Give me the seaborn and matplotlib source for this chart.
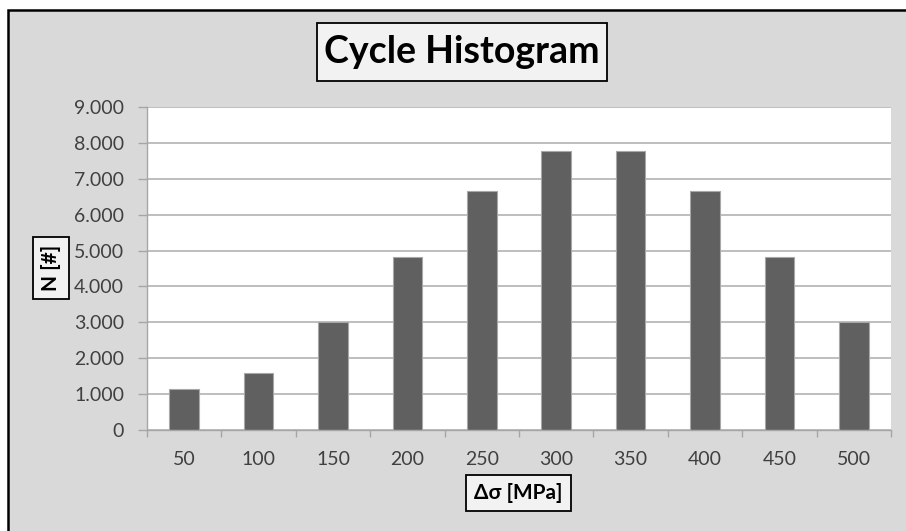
import matplotlib
matplotlib.use('Agg')
import matplotlib.pyplot as plt
import seaborn as sns
import pandas as pd
import numpy as np
from matplotlib.patches import Rectangle
from matplotlib.ticker import FuncFormatter

# ---- data ----
categories = ['50', '100', '150', '200', '250', '300', '350', '400', '450', '500']
counts = [1130, 1600, 3000, 4830, 6650, 7765, 7765, 6650, 4830, 3000]
y_ticks = [0, 1000, 2000, 3000, 4000, 5000, 6000, 7000, 8000, 9000]
title_text = 'Cycle Histogram'
x_label = 'Δσ [MPa]'
y_label = 'N [#]'

sns.set_theme(style='white')
plt.rcParams['font.family'] = ['Lato', 'DejaVu Sans']

W, H = 906, 531
fig = plt.figure(figsize=(W / 100, H / 100), dpi=100, facecolor='white')


def px_rect(x0, y0, x1, y1, **kw):
    """Rectangle given in figure pixel coords (origin top-left)."""
    return Rectangle((x0 / W, 1 - y1 / H), (x1 - x0) / W, (y1 - y0) / H,
                     transform=fig.transFigure, **kw)


# chart area frame (gray with black border, cropped at right/bottom)
fig.patches.append(px_rect(8, 10, 1000, 600, facecolor='#d9d9d9', edgecolor='black',
                           lw=1.8, zorder=-5))

ax = fig.add_axes([147 / W, 101 / H, 744 / W, 323 / H])
ax.set_zorder(1)
df = pd.DataFrame({'range': categories, 'N': counts})
sns.barplot(data=df, x='range', y='N', ax=ax, color='#606060', width=0.4,
            edgecolor='#a8a8a8', linewidth=0.8, saturation=1)

ax.set_facecolor('white')
ax.set_ylim(0, 9000)
ax.set_xlim(-0.5, len(categories) - 0.5)
ax.set_yticks(y_ticks)
ax.yaxis.set_major_formatter(FuncFormatter(lambda v, p: f'{int(v):,}'.replace(',', '.')))
ax.grid(axis='y', color='#b3b3b3', lw=1.2)
ax.grid(axis='x', visible=False)
ax.set_axisbelow(True)
for s in ['top', 'right']:
    ax.spines[s].set_visible(False)
for s in ['left', 'bottom']:
    ax.spines[s].set_color('#a6a6a6')
    ax.spines[s].set_linewidth(1.0)

ax.tick_params(axis='y', left=True, length=6.5, width=1, color='#a6a6a6', pad=10,
               labelsize=14, labelcolor='#404040')
ax.set_xticks(np.arange(-0.5, len(categories), 1), minor=True)
ax.tick_params(axis='x', which='major', bottom=True, length=0, pad=15,
               labelsize=14, labelcolor='#404040')
ax.tick_params(axis='x', which='minor', bottom=True, length=5, width=1, color='#a6a6a6')
ax.set_xlabel('')
ax.set_ylabel('')

# boxed title / axis labels
box_kw = dict(facecolor='#f2f2f2', edgecolor='black', lw=1.3, zorder=2)
fig.patches.append(px_rect(317, 23, 607, 81, **box_kw))
fig.patches.append(px_rect(33, 237, 69, 299, **box_kw))
fig.patches.append(px_rect(466, 475, 571, 511, **box_kw))

fig.text(462 / W, 1 - 52 / H, title_text, ha='center', va='center', fontsize=27,
         fontweight='bold', color='black', zorder=3)
fig.text(51 / W, 1 - 268 / H, y_label, rotation=90, ha='center', va='center', fontsize=15,
         fontweight='bold', color='black', zorder=3)
fig.text(518.5 / W, 1 - 493 / H, x_label, ha='center', va='center', fontsize=15,
         fontweight='bold', color='black', zorder=3)

fig.savefig('out.png', dpi=100, facecolor='white')
